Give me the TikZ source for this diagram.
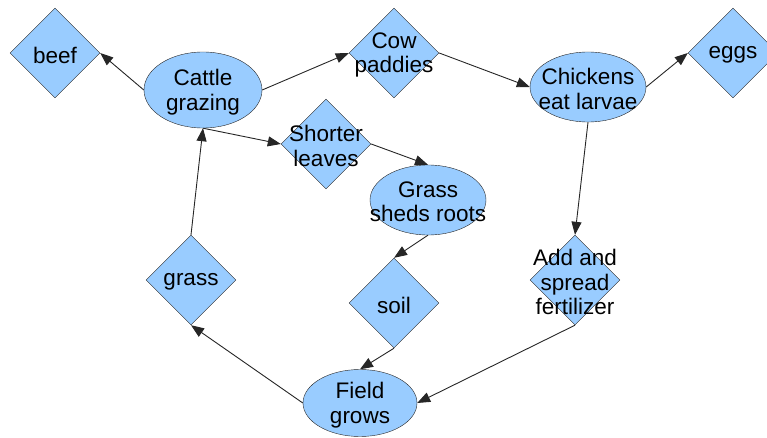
\documentclass[tikz,border=0pt]{standalone}
\usepackage{fontspec}
\setmainfont{Liberation Sans}
\usetikzlibrary{shapes.geometric,arrows.meta}
\definecolor{boxblue}{RGB}{153,204,255}
\tikzset{
  blob/.style={ellipse, draw=black!85, fill=boxblue, inner sep=0pt, minimum width=116pt, minimum height=70pt},
  dia/.style={diamond, draw=black!85, fill=boxblue, inner sep=0pt, minimum width=90pt, minimum height=90pt},
  link/.style={draw=black!85, line width=0.9pt, -{Triangle[length=13pt,width=10pt]}},
  every label/.style={align=center, yshift=-2pt, font=\fontsize{22.5}{24.5}\selectfont},
}
\begin{document}
\begin{tikzpicture}[x=1pt, y=-1pt]
  \useasboundingbox (0,0) rectangle (767,438);
  \node[dia, label={center:beef}] (beef) at (55,53) {};
  \node[blob, minimum width=118pt, minimum height=76pt, label={center:Cattle\\grazing}] (cattle) at (203,90) {};
  \node[dia, label={center:Cow\\paddies}] (cow) at (394,53) {};
  \node[blob, label={center:Chickens\\eat larvae}] (chickens) at (588,87) {};
  \node[dia, label={center:eggs}] (eggs) at (733,53) {};
  \node[dia, label={center:Shorter\\leaves}] (shorter) at (326,144) {};
  \node[blob, label={center:Grass\\sheds roots}] (roots) at (428,200) {};
  \node[dia, label={center:grass}] (grass) at (191,280) {};
  \node[dia, label={center:soil}] (soil) at (394,303) {};
  \node[dia, label={center:Add and\\spread\\fertilizer}] (fert) at (575,280) {};
  \node[blob, minimum width=114pt, minimum height=67pt, label={center:Field\\grows}] (field) at (360,403) {};

  \draw[link] (cattle.west) -- (beef.east);
  \draw[link] (cattle.east) -- (cow.west);
  \draw[link] (cow.east) -- (chickens.west);
  \draw[link] (chickens.east) -- (eggs.west);
  \draw[link] (cattle.south) -- (shorter.west);
  \draw[link] (shorter.east) -- (roots.north);
  \draw[link] (roots.south) -- (soil.north);
  \draw[link] (chickens.south) -- (fert.north);
  \draw[link] (fert.south) -- (field.east);
  \draw[link] (soil.south) -- (field.north);
  \draw[link] (field.west) -- (grass.south);
  \draw[link] (grass.north) -- (cattle.south);
\end{tikzpicture}
\end{document}
